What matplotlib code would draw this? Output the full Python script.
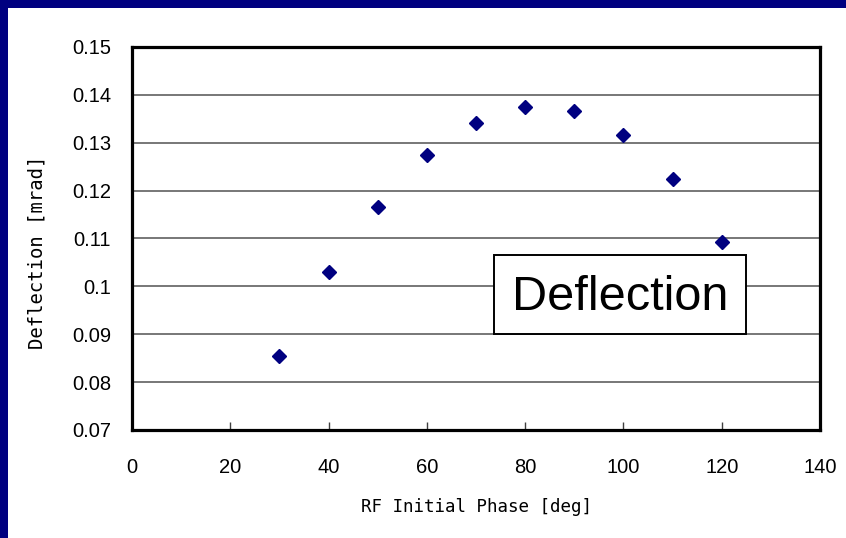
import matplotlib.pyplot as plt
from matplotlib.patches import Rectangle

# data
phase = [30, 40, 50, 60, 70, 80, 90, 100, 110, 120]
deflection = [0.0855, 0.1029, 0.1166, 0.1274, 0.1341, 0.1375, 0.1367, 0.1317, 0.1225, 0.1092]

x_ticks = [0, 20, 40, 60, 80, 100, 120, 140]
y_ticks = [0.07, 0.08, 0.09, 0.1, 0.11, 0.12, 0.13, 0.14, 0.15]
y_labels = ["0.07", "0.08", "0.09", "0.1", "0.11", "0.12", "0.13", "0.14", "0.15"]

W, H = 846, 538
navy = "#000080"

fig = plt.figure(figsize=(W / 100, H / 100), dpi=100)
fig.patch.set_facecolor("white")

# navy slide border on top and left
fig.patches.append(Rectangle((0, 1 - 8 / H), 1, 8 / H, transform=fig.transFigure,
                             facecolor=navy, edgecolor="none", zorder=0))
fig.patches.append(Rectangle((0, 0), 8 / W, 1, transform=fig.transFigure,
                             facecolor=navy, edgecolor="none", zorder=0))

ax = fig.add_axes((132 / W, 1 - 430 / H, (820 - 132) / W, (430 - 47) / H))
ax.plot(phase, deflection, linestyle="none", marker="D", markersize=7,
        color=navy, markeredgecolor=navy)

ax.set_xlim(0, 140)
ax.set_ylim(0.07, 0.15)
ax.set_xticks(x_ticks)
ax.set_yticks(y_ticks)
ax.set_yticklabels(y_labels)
ax.grid(axis="y", color="#606060", linewidth=1.2)
ax.set_axisbelow(True)

for s in ax.spines.values():
    s.set_linewidth(2.3)
    s.set_color("black")

ax.tick_params(axis="x", direction="in", length=6, width=1, color="#404040",
               pad=20, labelsize=14.5)
ax.tick_params(axis="y", length=0, pad=15, labelsize=14.5)
for lab in ax.get_xticklabels() + ax.get_yticklabels():
    lab.set_family("Liberation Sans")

fig.text(476 / W, 1 - 507 / H, "RF Initial Phase [deg]", ha="center", va="center",
         family="DejaVu Sans Mono", fontsize=12.6)
fig.text(37 / W, 1 - 252 / H, "Deflection [mrad]", ha="center", va="center",
         rotation=90, family="DejaVu Sans Mono", fontsize=13.6)

# boxed annotation
fig.patches.append(Rectangle((494 / W, 1 - 334 / H), (746 - 494) / W, (334 - 255) / H,
                             transform=fig.transFigure, facecolor="white",
                             edgecolor="black", linewidth=1.4, zorder=5))
fig.text(620 / W, 1 - 298 / H, "Deflection", ha="center", va="center",
         family="Liberation Sans", fontsize=35, zorder=6)

fig.savefig("out.png", dpi=100)
